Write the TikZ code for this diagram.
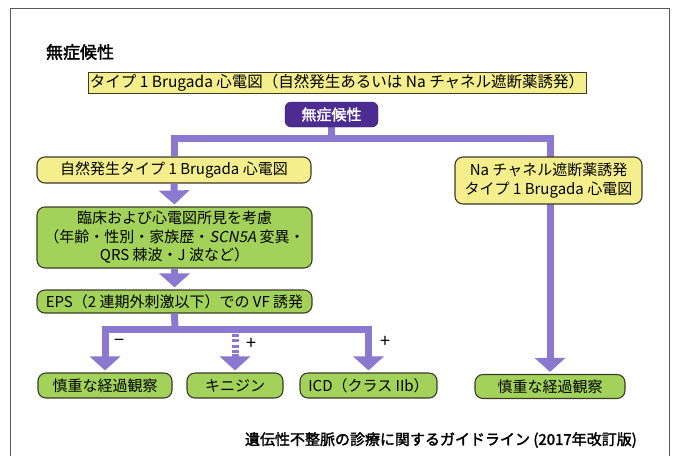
\documentclass[tikz,border=0pt]{standalone}
\usepackage{fontspec}
\setmainfont{Noto Sans CJK JP}
\newfontfamily\jpbold[FakeBold=2]{Noto Sans CJK JP}
\newfontfamily\jpslant[FakeSlant=0.18]{Noto Sans CJK JP}
\usetikzlibrary{arrows.meta}
\pgfdeclarelayer{bg}
\pgfsetlayers{bg,main}
\definecolor{flowc}{HTML}{8A79CF}
\definecolor{yel}{HTML}{F5EE8C}
\definecolor{grn}{HTML}{A2D25A}
\definecolor{pur}{HTML}{4C2C90}
\definecolor{edge}{HTML}{3E3A2A}
\definecolor{framec}{HTML}{5A5A5A}
\tikzset{
  boxbase/.style={draw=edge, line width=1.1pt, inner sep=0pt, align=center, font=\fontsize{15}{18.5}\selectfont, text=black},
  ybox/.style={boxbase, fill=yel, rounded corners=8pt},
  gbox/.style={boxbase, fill=grn, rounded corners=8pt},
  sqbox/.style={boxbase, fill=yel, line width=1pt},
  pbox/.style={draw=pur!70!black, fill=pur, rounded corners=6pt, inner sep=0pt, text=white, font=\jpbold\fontsize{15}{18}\selectfont},
  bar/.style={draw=flowc, line width=7pt},
  arr/.style={bar, -{Triangle[width=30pt,length=14pt]}, shorten >=2pt},
  sign/.style={font=\fontsize{18}{20}\selectfont, inner sep=0pt}
}
\begin{document}
\begin{tikzpicture}[x=1pt, y=-1pt]
\useasboundingbox (0,0) rectangle (675,456);
\begin{pgfonlayer}{bg}
\fill[white] (0,0) rectangle (675,456);
\end{pgfonlayer}
\draw[framec, line width=1pt] (10,456) -- (10,8) -- (669,8) -- (669,456);

\node[font=\jpbold\fontsize{17}{20}\selectfont, inner sep=0pt] (title) at (80,52) {無症候性};
\node[sqbox, minimum width=498pt, minimum height=21pt, font=\fontsize{15.5}{18}\selectfont] (top) at (337,83) {タイプ 1 Brugada 心電図（自然発生あるいは Na チャネル遮断薬誘発）};
\node[pbox, minimum width=93pt, minimum height=25pt] (pb) at (331.5,114.5) {無症候性};

\node[ybox, minimum width=274pt, minimum height=26pt] (spont) at (174,170) {自然発生タイプ 1 Brugada 心電図};
\node[gbox, minimum width=275pt, minimum height=61pt] (green) at (174.5,237.5) {臨床および心電図所見を考慮\\（年齢・性別・家族歴・{\jpslant SCN5A} 変異・\\QRS 棘波・J 波など）};
\node[gbox, minimum width=275pt, minimum height=23pt] (eps) at (174.5,301.5) {EPS（2 連期外刺激以下）での VF 誘発};

\node[ybox, minimum width=187pt, minimum height=47pt] (nab) at (548.5,180.5) {Na チャネル遮断薬誘発\\タイプ 1 Brugada 心電図};

\node[gbox, minimum width=134pt, minimum height=25pt] (obs1) at (105,385.5) {慎重な経過観察};
\node[gbox, minimum width=96pt, minimum height=25pt] (kin) at (235,385.5) {キニジン};
\node[gbox, minimum width=137pt, minimum height=25pt] (icd) at (368.5,385.5) {ICD（クラス IIb）};
\node[gbox, minimum width=150pt, minimum height=24pt] (obs2) at (550,386.5) {慎重な経過観察};

\coordinate (jc) at (331.5,138);
\coordinate (jb) at (175,329);

\begin{pgfonlayer}{bg}
\draw[bar] (pb.south) -- (jc);
\draw[arr] (spont.north) |- (jc) -| (obs2.north);
\end{pgfonlayer}

\draw[arr] (spont.south) -- (green.north);
\draw[arr] (green.south) -- (eps.north);

\draw[bar] (eps.south) -- (jb);
\draw[arr] (jb) -| (obs1.north);
\draw[arr] (jb) -| (icd.north);
\draw[bar, dash pattern=on 3pt off 2.2pt] (kin.north |- jb) -- ([yshift=18pt]kin.north);
\draw[arr] ([yshift=18pt]kin.north) -- (kin.north);

\node[sign] (m1) at (119,343) {−};
\node[sign] (p1) at (251,344) {+};
\node[sign] (p2) at (385,342) {+};

\node[font=\jpbold\fontsize{15}{18}\selectfont, inner sep=0pt, anchor=east] (foot) at (637,440) {遺伝性不整脈の診療に関するガイドライン (2017年改訂版)};
\end{tikzpicture}
\end{document}
